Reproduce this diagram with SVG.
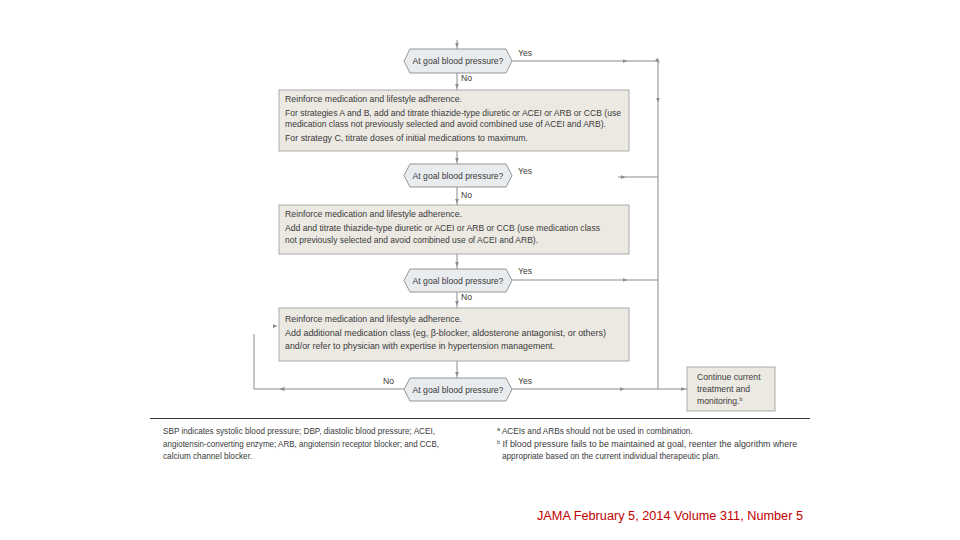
<svg xmlns="http://www.w3.org/2000/svg" width="960" height="540" viewBox="0 0 960 540">
<style>
.bg{fill:#ffffff}
.ln{fill:none;stroke:#8c8c8c;stroke-width:1;marker-mid:url(#ah)}
.lnp{fill:none;stroke:#8c8c8c;stroke-width:1}
.hex{fill:#e9ecee;stroke:#8a8a8a;stroke-width:0.9}
.box{fill:#ece9e3;stroke:#a3a3a3;stroke-width:0.9}
.t{font-family:"Liberation Sans",Arial,sans-serif;font-size:8.6px;fill:#3a3a3a}
.lbl{font-family:"Liberation Sans",Arial,sans-serif;font-size:8.6px;fill:#3a3a3a}
.fn{font-family:"Liberation Sans",Arial,sans-serif;font-size:8.2px;fill:#3a3a3a}
.jama{font-family:"Liberation Sans",Arial,sans-serif;font-size:12.5px;fill:#c00000}
</style>
<defs>
<marker id="ah" viewBox="0 0 6 6" refX="3" refY="3" markerWidth="5" markerHeight="5" orient="auto" markerUnits="userSpaceOnUse">
<path d="M0,0.5 L6,3 L0,5.5 Z" fill="#8c8c8c"/>
</marker>
</defs>
<rect class="bg" x="0" y="0" width="960" height="540"/>

<g id="connectors">
<!-- top incoming -->
<polyline class="ln" points="457,40 457,45 457,49"/>
<!-- D1 No to Box1 -->
<polyline class="ln" points="457,73 457,86 457,90"/>
<!-- D1 Yes -->
<polyline class="ln" points="512,61 625,61 658,61 658,100 658,389"/>
<!-- Box1 to D2 -->
<polyline class="ln" points="457,151 457,160 457,164"/>
<!-- D2 Yes (short) -->
<polyline class="ln" points="618,177 623,177 658,177"/>
<!-- D2 No to Box2 -->
<polyline class="ln" points="457,187 457,201 457,205"/>
<!-- Box2 to D3 -->
<polyline class="ln" points="457,254 457,264 457,269"/>
<!-- D3 Yes -->
<polyline class="ln" points="512,280 625,280 658,280"/>
<!-- D3 No to Box3 -->
<polyline class="ln" points="457,292 457,303 457,308"/>
<!-- Box3 to D4 -->
<polyline class="ln" points="457,361 457,374 457,378"/>
<!-- D4 No loop -->
<polyline class="ln" points="405,389 282,389 254,389"/>
<polyline class="lnp" points="254,389 254,334"/>
<polyline class="ln" points="271,326 275,326 277,326" style="stroke:none"/>
<!-- D4 Yes -->
<polyline class="ln" points="512,389 622,389 687,389"/>
<polyline class="ln" points="658,389 683,389 687,389" style="stroke:none"/>
</g>

<g id="d1">
<polygon class="hex" points="410,49 506,49 512,61 506,73 410,73 404,61"/>
<text class="t" x="458" y="64" text-anchor="middle">At goal blood pressure?</text>
<text class="lbl" x="518" y="56">Yes</text>
<text class="lbl" x="461" y="81">No</text>
</g>

<g id="box1">
<rect class="box" x="279" y="90" width="350" height="61"/>
<text class="t" x="285" y="102" textLength="177" lengthAdjust="spacingAndGlyphs">Reinforce medication and lifestyle adherence.</text>
<text class="t" x="285" y="116" textLength="336" lengthAdjust="spacingAndGlyphs">For strategies A and B, add and titrate thiazide-type diuretic or ACEI or ARB or CCB (use</text>
<text class="t" x="285" y="127" textLength="321" lengthAdjust="spacingAndGlyphs">medication class not previously selected and avoid combined use of ACEI and ARB).</text>
<text class="t" x="285" y="141" textLength="243" lengthAdjust="spacingAndGlyphs">For strategy C, titrate doses of initial medications to maximum.</text>
</g>

<g id="d2">
<polygon class="hex" points="410,164 506,164 512,175.5 506,187 410,187 404,175.5"/>
<text class="t" x="458" y="178.5" text-anchor="middle">At goal blood pressure?</text>
<text class="lbl" x="518" y="174">Yes</text>
<text class="lbl" x="461" y="198">No</text>
</g>

<g id="box2">
<rect class="box" x="279" y="205" width="350" height="49"/>
<text class="t" x="285" y="217" textLength="177" lengthAdjust="spacingAndGlyphs">Reinforce medication and lifestyle adherence.</text>
<text class="t" x="285" y="231" textLength="315" lengthAdjust="spacingAndGlyphs">Add and titrate thiazide-type diuretic or ACEI or ARB or CCB (use medication class</text>
<text class="t" x="285" y="243" textLength="253" lengthAdjust="spacingAndGlyphs">not previously selected and avoid combined use of ACEI and ARB).</text>
</g>

<g id="d3">
<polygon class="hex" points="410,269 506,269 512,280.5 506,292 410,292 404,280.5"/>
<text class="t" x="458" y="283.5" text-anchor="middle">At goal blood pressure?</text>
<text class="lbl" x="518" y="274">Yes</text>
<text class="lbl" x="461" y="300">No</text>
</g>

<g id="box3">
<rect class="box" x="279" y="308" width="350" height="53"/>
<text class="t" x="285" y="322" textLength="177" lengthAdjust="spacingAndGlyphs">Reinforce medication and lifestyle adherence.</text>
<text class="t" x="285" y="336" textLength="321" lengthAdjust="spacingAndGlyphs">Add additional medication class (eg, β-blocker, aldosterone antagonist, or others)</text>
<text class="t" x="285" y="349" textLength="270" lengthAdjust="spacingAndGlyphs">and/or refer to physician with expertise in hypertension management.</text>
</g>

<g id="d4">
<polygon class="hex" points="410,378 506,378 512,389.5 506,401 410,401 404,389.5"/>
<text class="t" x="458" y="392.5" text-anchor="middle">At goal blood pressure?</text>
<text class="lbl" x="383" y="384">No</text>
<text class="lbl" x="518" y="384">Yes</text>
</g>

<g id="continue">
<rect class="box" x="687" y="367" width="88" height="44"/>
<text class="t" x="697" y="380">Continue current</text>
<text class="t" x="697" y="392">treatment and</text>
<text class="t" x="697" y="404">monitoring.<tspan font-size="5.5" dy="-3">b</tspan></text>
</g>

<g id="footer">
<line x1="150" y1="418.5" x2="810" y2="418.5" stroke="#333" stroke-width="1"/>
<text class="fn" x="163" y="434" textLength="272" lengthAdjust="spacingAndGlyphs">SBP indicates systolic blood pressure; DBP, diastolic blood pressure; ACEI,</text>
<text class="fn" x="163" y="447" textLength="276" lengthAdjust="spacingAndGlyphs">angiotensin-converting enzyme; ARB, angiotensin receptor blocker; and CCB,</text>
<text class="fn" x="163" y="459">calcium channel blocker.</text>
<text class="fn" x="497" y="434"><tspan font-size="5.5" dy="-3">a</tspan><tspan dy="3"> ACEIs and ARBs should not be used in combination.</tspan></text>
<text class="fn" x="497" y="447"><tspan font-size="5.5" dy="-3">b</tspan><tspan dy="3" textLength="297" lengthAdjust="spacingAndGlyphs"> If blood pressure fails to be maintained at goal, reenter the algorithm where</tspan></text>
<text class="fn" x="502" y="459">appropriate based on the current individual therapeutic plan.</text>
</g>

<text class="jama" x="537" y="520" textLength="266" lengthAdjust="spacingAndGlyphs">JAMA February 5, 2014 Volume 311, Number 5</text>
</svg>
